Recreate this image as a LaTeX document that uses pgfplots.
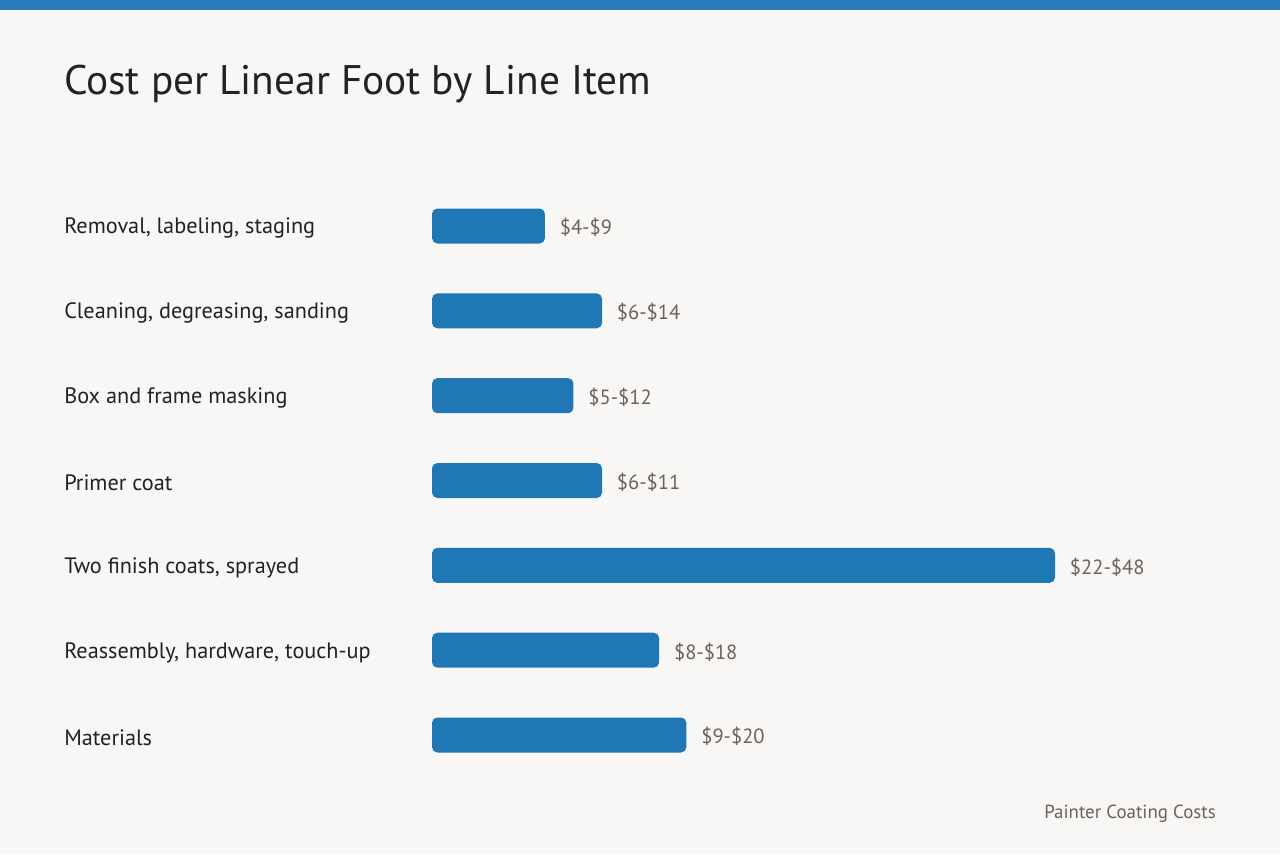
\documentclass[border=0pt]{standalone}
\usepackage{pgfplots}
\usepackage{pgfplotstable}
\pgfplotsset{compat=1.18}
\usepackage{fontspec}
\setmainfont{PT Sans}
\definecolor{bgc}{HTML}{F8F7F5}
\definecolor{barblue}{HTML}{2077B6}
\definecolor{topblue}{HTML}{2A7BBE}
\definecolor{labgray}{HTML}{6A635B}
\definecolor{txt}{HTML}{222222}

\pgfplotstableread{
y x label
0 8.7 {\$4-\$9}
1 13.1 {\$6-\$14}
2 10.9 {\$5-\$12}
3 13.1 {\$6-\$11}
4 48 {\$22-\$48}
5 17.5 {\$8-\$18}
6 19.6 {\$9-\$20}
}\datatable

\begin{document}
\begin{tikzpicture}
\useasboundingbox (0,0) rectangle (960pt,640.5pt);
\fill[bgc] (0,0) rectangle (960pt,640.5pt);
\fill[topblue] (0,633pt) rectangle (960pt,640.5pt);
\node[anchor=base west, inner sep=0pt, text=txt, font=\fontsize{31pt}{36pt}\selectfont] at (48pt,569.25pt) {Cost per Linear Foot by Line Item};
\node[anchor=base east, inner sep=0pt, text=labgray, font=\fontsize{14.2pt}{17pt}\selectfont] at (912pt,27pt) {Painter Coating Costs};
\begin{axis}[
  at={(324pt,89.25pt)}, anchor=south west,
  scale only axis, width=467.25pt, height=381.75pt,
  xmin=0, xmax=48, ymin=0, ymax=6,
  y dir=reverse,
  clip=false,
  axis line style={draw=none},
  major tick length=0pt,
  xtick=\empty,
  ytick={0,...,6},
  yticklabels={{Removal, labeling, staging},{Cleaning, degreasing, sanding},{Box and frame masking},{Primer coat},{Two finish coats, sprayed},{Reassembly, hardware, touch-up},{Materials}},
  yticklabel style={anchor=west, inner sep=0pt, xshift=-276pt, yshift=-1.8pt, text=txt, font=\fontsize{16.7pt}{19pt}\selectfont},
  xbar, bar width=26.25pt,
  nodes near coords,
  point meta=explicit symbolic,
  nodes near coords style={anchor=west, inner sep=0pt, xshift=11pt, yshift=-1.3pt, text=labgray, font=\fontsize{15.4pt}{18pt}\selectfont},
]
\addplot[fill=barblue, draw=none, rounded corners=4pt] table[x=x, y=y, meta=label] {\datatable};
\end{axis}
\end{tikzpicture}
\end{document}
